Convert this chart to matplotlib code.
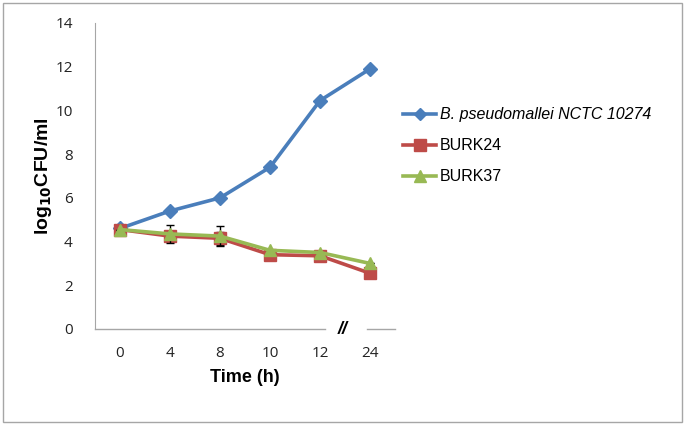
#!/usr/bin/env python3

"""growth curves of B. pseudomallei and phage-treated cultures"""

import matplotlib.pyplot as plt
from matplotlib.patches import Rectangle
from matplotlib.lines import Line2D

# data
times = ['0', '4', '8', '10', '12', '24']
bp_vals = [4.6, 5.4, 6.0, 7.4, 10.45, 11.9]
burk24_vals = [4.55, 4.25, 4.15, 3.4, 3.35, 2.55]
burk37_vals = [4.55, 4.35, 4.25, 3.6, 3.5, 3.0]
burk24_err = [0, 0.1, 0.3, 0, 0, 0]
burk37_err = [0, 0.4, 0.45, 0, 0, 0]

blue, red, green = '#4a7ebb', '#be4b48', '#98b954'

fig = plt.figure(figsize=(6.88, 4.28), dpi=100)
ax = fig.add_axes([95 / 688, 1 - 329 / 428, 300 / 688, 306 / 428])

# outer frame
fig.patches.append(Rectangle((3 / 688, 1 - 422 / 428), 679 / 688, 419 / 428,
                             transform=fig.transFigure, fill=False,
                             edgecolor='#a6a6a6', linewidth=1))

x = list(range(len(times)))
ax.plot(x, bp_vals, color=blue, lw=2.6, marker='D', ms=7, zorder=3)
ax.errorbar(x, burk24_vals, yerr=burk24_err, color=red, lw=2.6,
            marker='s', ms=8, ecolor='black', elinewidth=1, capsize=3, zorder=3)
ax.errorbar(x, burk37_vals, yerr=burk37_err, color=green, lw=2.6,
            marker='^', ms=9, ecolor='black', elinewidth=1, capsize=3, zorder=4)

ax.set_xlim(-0.5, 5.5)
ax.set_ylim(0, 14)
ax.set_yticks(range(0, 15, 2))
ax.set_xticks(x)
ax.set_xticklabels(times)
ax.tick_params(length=0, labelsize=11, colors='#222222', pad=12)
for lab in ax.get_xticklabels() + ax.get_yticklabels():
    lab.set_family('Open Sans')
ax.tick_params(axis='y', pad=16)

for side in ['top', 'right', 'bottom']:
    ax.spines[side].set_visible(False)
ax.spines['left'].set_color('#a6a6a6')

# broken x axis
ax.plot([0, 0.767], [0, 0], color='#a6a6a6', lw=1, transform=ax.transAxes, clip_on=False)
ax.plot([0.907, 1.0], [0, 0], color='#a6a6a6', lw=1, transform=ax.transAxes, clip_on=False)
ax.text(0.827, 0, '//', transform=ax.transAxes, ha='center', va='center',
        fontsize=13, fontweight='bold', style='italic', family='Liberation Sans')

ax.set_xlabel('Time (h)', fontsize=13, fontweight='bold', family='Liberation Sans', labelpad=6)
ax.set_ylabel(r'log$_{\mathbf{10}}$CFU/ml', fontsize=14, fontweight='bold',
              family='Liberation Sans')
ax.yaxis.set_label_coords(-0.135, 0.5)

handles = [
    Line2D([], [], color=blue, lw=2.6, marker='D', ms=6),
    Line2D([], [], color=red, lw=2.6, marker='s', ms=8),
    Line2D([], [], color=green, lw=2.6, marker='^', ms=8),
]
labels = ['B. pseudomallei NCTC 10274', 'BURK24', 'BURK37']
leg = ax.legend(handles, labels, loc='upper left', bbox_to_anchor=(1.005, 0.745),
                frameon=False, handlelength=2.1, handletextpad=0.2,
                labelspacing=1.0, borderaxespad=0,
                prop={'family': 'Liberation Sans', 'size': 11.5})
leg.get_texts()[0].set_style('italic')

plt.savefig('out.png', dpi=100)
